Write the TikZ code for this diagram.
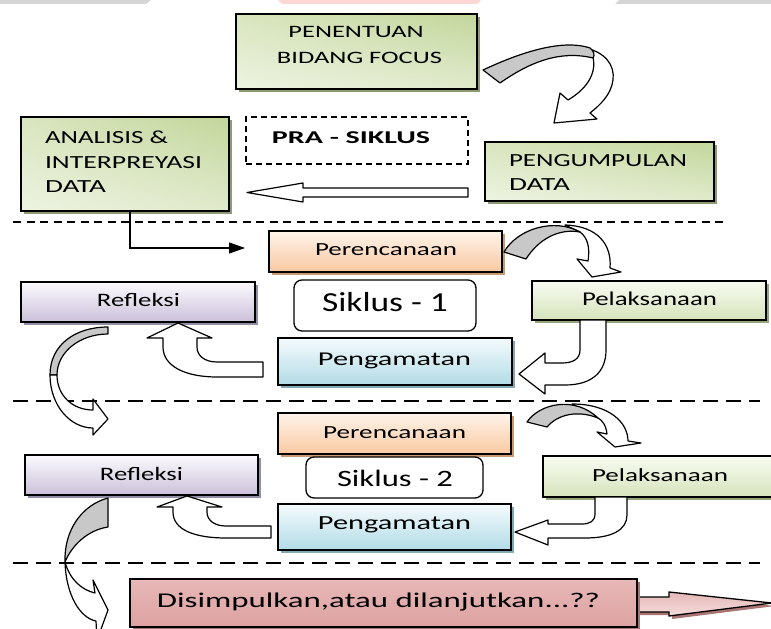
\documentclass[tikz,border=0pt]{standalone}
\usepackage{fontspec}
\setmainfont{Carlito}
\usepackage{graphicx}
\usetikzlibrary{arrows.meta,fit,shadows,shadings}
\definecolor{gUR}{HTML}{C3D69B}
\definecolor{gUL}{HTML}{D9E5BF}
\definecolor{gLL}{HTML}{EDF3E1}
\definecolor{gLR}{HTML}{E0EACC}
\definecolor{shgreen}{HTML}{8E9A74}
\definecolor{peach}{HTML}{F9C9A1}
\definecolor{peachT}{HTML}{FEF3EA}
\definecolor{shpeach}{HTML}{C89B74}
\definecolor{lav}{HTML}{CCC0DA}
\definecolor{lavT}{HTML}{FBFAFD}
\definecolor{shlav}{HTML}{938EA3}
\definecolor{lgreen}{HTML}{D5E3BA}
\definecolor{lgreenT}{HTML}{F8FBF2}
\definecolor{shlgreen}{HTML}{95A57A}
\definecolor{lblue}{HTML}{B2DBE6}
\definecolor{lblueT}{HTML}{F4FBFD}
\definecolor{shlblue}{HTML}{82A9B3}
\definecolor{pinkT}{HTML}{E6B8B7}
\definecolor{pinkM}{HTML}{F3DCDB}
\definecolor{pinkB}{HTML}{DDA2A1}
\definecolor{shpink}{HTML}{A97472}
\definecolor{ribbon}{HTML}{C8C8C8}
\definecolor{barg}{HTML}{D5D5D5}
\definecolor{barp}{HTML}{FFD6D6}
\newcommand\fw[3]{\resizebox{#1bp}{\height}{\fontsize{#2bp}{#2bp}\selectfont #3}}
\begin{document}
\begin{tikzpicture}[x=1bp,y=-1bp,
  bx/.style={draw=black,line width=1.6bp,inner sep=0pt,outer sep=0pt},
  shad/.style={general shadow={fill=#1,shadow xshift=3bp,shadow yshift=-3bp}},
  gbox/.style={shad=shgreen,bx,upper left=gUL,upper right=gUR,lower left=gLL,lower right=gLR},
  vbox/.style 2 args={shad=#2,bx,top color=#1T,bottom color=#1},
  rbox/.style={draw=black,line width=1.3bp,rounded corners=8bp,fill=white,inner sep=0pt},
  dbox/.style={draw=black,line width=1.3bp,dash pattern=on 6bp off 4bp,inner sep=0pt},
  txt/.style={inner sep=0pt,outer sep=0pt,text=black},
  barrow/.style={draw=black,line width=1.2bp,fill=white,line join=round},
  garrow/.style={draw=black,line width=1.2bp,fill=ribbon,line join=round},
  dlA/.style={line width=1.5bp,dash pattern=on 8bp off 5.5bp},
  dlB/.style={line width=1.5bp,dash pattern=on 15bp off 8bp},
  conn/.style={line width=1.1bp,-{Triangle[length=16bp,width=11bp]}}
]
\useasboundingbox (0,0) rectangle (771,629);
\clip (0,0) rectangle (771,629);
\fill[white] (0,0) rectangle (771,629);
% top strips
\fill[barg] (0,0) -- (151,0) -- (146,4) -- (0,4) -- cycle;
\fill[barp] (278,0) -- (481,0) -- (477,4) -- (282,4) -- cycle;
\fill[barg] (619,0) -- (771,0) -- (771,4) -- (615,4) -- cycle;

% dashed separators
\draw[dlA] (13,222) -- (727,222);
\draw[dlB] (13,401) -- (760,401);
\draw[dlB] (13,563) -- (760,563);

% PRA-SIKLUS boxes
\node[gbox,fit={(236,14)(477,89)}] (pen) {};
\node[gbox,fit={(21,117)(229,211)}] (ana) {};
\node[dbox,fit={(246,117)(468,164)}] (pra) {};
\node[gbox,fit={(485,142)(714,201)}] (peng) {};

% Siklus 1
\node[vbox={peach}{shpeach},fit={(269,231)(502,272)}] (per1) {};
\node[rbox,fit={(294,280)(476,331)}] (sik1) {};
\node[vbox={lav}{shlav},fit={(21,282)(255,322)}] (ref1) {};
\node[vbox={lgreen}{shlgreen},fit={(532,281)(766,320)}] (pel1) {};
\node[vbox={lblue}{shlblue},fit={(278,338)(512,385)}] (pga1) {};

% Siklus 2
\node[vbox={peach}{shpeach},fit={(278,413)(511,454)}] (per2) {};
\node[rbox,fit={(306,457)(483,498)}] (sik2) {};
\node[vbox={lav}{shlav},fit={(25,455)(258,495)}] (ref2) {};
\node[vbox={lgreen}{shlgreen},fit={(543,456)(777,497)}] (pel2) {};
\node[vbox={lblue}{shlblue},fit={(278,504)(511,550)}] (pga2) {};

% conclusion arrow + box
\path[shad=shpink,draw=black,line width=1.3bp,line join=miter,top color=pinkT,bottom color=pinkM]
  (630,597) -- (669,597) -- (669,592) -- (772,603) -- (669,616) -- (669,612) -- (630,612) -- cycle;
\node[shad=shpink,bx,top color=pinkT,middle color=pinkM,bottom color=pinkB,fit={(130,579)(637,627)}] (dis) {};

% texts
\node[txt,anchor=base] (tpen1) at (356,37.7) {\fw{135}{17.4}{PENENTUAN}};
\node[txt,anchor=base] (tpen2) at (359.5,63.3) {\fw{165}{17.4}{BIDANG FOCUS}};
\node[txt,anchor=base west] (tana1) at (45,144) {\fw{123}{18.5}{ANALISIS \&}};
\node[txt,anchor=base west] (tana2) at (45,168.3) {\fw{157}{18.5}{INTERPREYASI}};
\node[txt,anchor=base west] (tana3) at (45,192.7) {\fw{61}{18.5}{DATA}};
\node[txt,anchor=base] (tpra) at (351,144) {\fw{158}{18}{\bfseries PRA - SIKLUS}};
\node[txt,anchor=base west] (tpeng1) at (509,166.7) {\fw{178}{18.5}{PENGUMPULAN}};
\node[txt,anchor=base west] (tpeng2) at (509,191) {\fw{61}{18.5}{DATA}};
\node[txt,anchor=base] (tper1) at (386,255) {\fw{142}{18.5}{Perencanaan}};
\node[txt,anchor=base] (tsik1) at (385,311.7) {\fw{126}{27.5}{Siklus - 1}};
\node[txt,anchor=base] (tref1) at (138.5,306) {\fw{83}{19}{Refleksi}};
\node[txt,anchor=base] (tpel1) at (649.5,305) {\fw{135}{19.5}{Pelaksanaan}};
\node[txt,anchor=base] (tpga1) at (394.5,365) {\fw{153}{19.5}{Pengamatan}};
\node[txt,anchor=base] (tper2) at (394.5,438.3) {\fw{143}{18.5}{Perencanaan}};
\node[txt,anchor=base] (tsik2) at (395,486.7) {\fw{116}{23.5}{Siklus - 2}};
\node[txt,anchor=base] (tref2) at (141.5,480) {\fw{83}{19}{Refleksi}};
\node[txt,anchor=base] (tpel2) at (660,481.7) {\fw{136}{18.5}{Pelaksanaan}};
\node[txt,anchor=base] (tpga2) at (394.5,529.3) {\fw{153}{20}{Pengamatan}};
\node[txt,anchor=base] (tdis) at (378.5,607.3) {\fw{443}{21}{Disimpulkan,atau dilanjutkan...??}};

% connector analisis -> perencanaan
\coordinate (e1) at (245,248);
\draw[conn] ([xshift=5bp]ana.south) |- (e1);

% hollow arrow pengumpulan -> analisis
\draw[barrow] (468,188) -- (303,188) -- (303,183) -- (247,192.5) -- (303,202) -- (303,197) -- (468,197) -- cycle;

% ribbon arrow A: pen -> peng
\draw[barrow] (585,48) .. controls (605,52) and (615,65) .. (613,80) .. controls (611,95) and (600,105) .. (590,113) -- (597,119) -- (554,123) -- (560,93) -- (568,100) .. controls (585,90) and (597,75) .. (593,57) -- cycle;
\draw[garrow] (483,70) .. controls (515,55) and (560,38) .. (590,48) .. controls (594,51) and (595,55) .. (593,58) .. controls (560,50) and (530,62) .. (500,83) -- cycle;

% ribbon arrow B: per1 -> pel1
\draw[barrow] (565,225) .. controls (598,226) and (612,245) .. (610,268) -- (621,272) -- (592,277) -- (577,259) -- (588,261) .. controls (590,248) and (588,238) .. (580,232) -- cycle;
\draw[garrow] (504,252) .. controls (518,228) and (555,218) .. (580,232) .. controls (558,228) and (538,240) .. (526,259) -- cycle;

% U arrow D: pel1 -> pga1
\draw[barrow] (580,320) -- (580,350) .. controls (580,359) and (573,363) .. (562,363) -- (545,363) -- (545,353) -- (519,374) -- (545,394) -- (545,385) -- (565,385) .. controls (592,385) and (606,372) .. (606,350) -- (606,320) -- cycle;

% arrow F: pga1 -> ref1
\draw[barrow] (263,362) -- (217,362) .. controls (205,362) and (197,356) .. (197,347) -- (197,338) -- (212,338) -- (178,323) -- (147,338) -- (163,338) -- (163,347) .. controls (163,366) and (185,377) .. (217,377) -- (263,377) -- cycle;

% arrow H: ref1 -> cycle 2
\draw[garrow] (108,327) .. controls (75,327) and (50,345) .. (50,375) -- (57,375) .. controls (57,352) and (80,334) .. (108,334) -- cycle;
\draw[barrow] (50,375) .. controls (50,405) and (70,428) .. (93,428) -- (93,435) -- (108,419) -- (93,399) -- (93,410) .. controls (72,410) and (57,395) .. (57,375) -- cycle;

% ribbon arrow C: per2 -> pel2
\draw[barrow] (572,404) .. controls (610,404) and (628,423) .. (628,441) -- (641,443) -- (615,447) -- (597,432) -- (607,434) .. controls (606,425) and (602,420) .. (598,418) -- cycle;
\draw[garrow] (527,422) .. controls (540,403) and (575,396) .. (598,418) .. controls (578,410) and (558,414) .. (547,427) -- cycle;

% U arrow E: pel2 -> pga2
\draw[barrow] (595,497) -- (595,514) .. controls (595,521) and (590,524) .. (582,524) -- (548,524) -- (548,520) -- (515,532) -- (548,545) -- (548,538) -- (585,538) .. controls (612,538) and (627,530) .. (627,515) -- (627,497) -- cycle;

% arrow G: pga2 -> ref2
\draw[barrow] (271,526) -- (226,526) .. controls (214,526) and (207,520) .. (207,512) -- (207,507) -- (222,507) -- (187,496) -- (157,507) -- (173,507) -- (173,512) .. controls (173,530) and (195,538) .. (226,538) -- (271,538) -- cycle;

% arrow I: ref2 -> dis
\draw[garrow] (108,498) .. controls (82,505) and (64,530) .. (65,562) .. controls (72,545) and (88,530) .. (108,527) -- cycle;
\draw[barrow] (65,562) .. controls (66,595) and (80,618) .. (96,621) -- (97,640) -- (108,610) -- (93,580) -- (95,593) .. controls (82,590) and (70,580) .. (65,562) -- cycle;
\end{tikzpicture}
\end{document}
